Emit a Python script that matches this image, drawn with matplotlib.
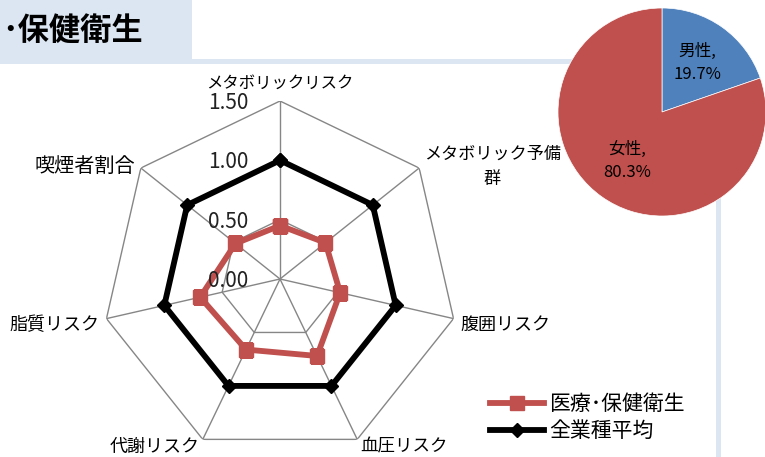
import numpy as np
import matplotlib
matplotlib.use("Agg")
import matplotlib.pyplot as plt
from matplotlib.patches import Rectangle

plt.rcParams['font.family'] = ['Noto Sans CJK JP', 'DejaVu Sans']

# data
categories = ['メタボリックリスク', 'メタボリック予備\n群', '腹囲リスク', '血圧リスク',
              '代謝リスク', '脂質リスク', '喫煙者割合']
medical = [0.45, 0.49, 0.52, 0.72, 0.66, 0.69, 0.48]
average = [1.00, 1.00, 1.00, 1.00, 1.00, 1.00, 1.00]
rticks = [0.0, 0.5, 1.0, 1.5]
series_names = ['医療･保健衛生', '全業種平均']
pie_names = ['男性', '女性']
pie_values = [19.7, 80.3]

red = '#C0504D'
blue = '#4F81BD'
pale = '#DCE6F2'
grid = '#868686'

W, H = 765, 457
fig = plt.figure(figsize=(W / 100, H / 100), dpi=100)

# background decoration (title box + frame lines)
fig.add_artist(Rectangle((0, 1 - 64 / H), 192 / W, 64 / H,
                         transform=fig.transFigure, fc=pale, ec='none', zorder=-1))
fig.add_artist(Rectangle((192 / W, 1 - 64 / H), 529 / W, 5 / H,
                         transform=fig.transFigure, fc=pale, ec='none', zorder=-1))
fig.add_artist(Rectangle((716 / W, 0), 5 / W, 1 - 59 / H,
                         transform=fig.transFigure, fc=pale, ec='none', zorder=-1))
fig.text(2 / W, 1 - 31 / H, '･保健衛生', fontsize=22.5, fontweight='bold',
         ha='left', va='center')

# radar chart
n = len(categories)
theta = np.arange(n) * 2 * np.pi / n
closed = np.append(theta, theta[0])

cx, cy, R = 280, 279, 178
ax = fig.add_axes([(cx - R) / W, 1 - (cy + R) / H, 2 * R / W, 2 * R / H],
                  projection='polar')
ax.set_theta_zero_location('N')
ax.set_theta_direction(-1)
ax.set_ylim(0, 1.5)
ax.set_xticks([])
ax.set_yticks([])
ax.grid(False)
ax.spines['polar'].set_visible(False)
ax.patch.set_visible(False)

for r in rticks[1:]:
    ax.plot(closed, [r] * (n + 1), color=grid, lw=1.0, zorder=1)
for t in theta:
    ax.plot([t, t], [0, rticks[-1]], color=grid, lw=1.0, zorder=1)

ax.plot(closed, np.append(medical, medical[0]), color=red, lw=4.2,
        marker='s', ms=10, zorder=3, label=series_names[0])
ax.plot(closed, np.append(average, average[0]), color='black', lw=4.2,
        marker='D', ms=7, zorder=4, label=series_names[1])

for r in rticks:
    ax.annotate(f'{r:.2f}', (0, r), xytext=(-32, -2), textcoords='offset pixels',
                ha='right', va='center', fontsize=15, color='#222222', zorder=5,
                annotation_clip=False)

label_r = [1.58, 1.55, 1.56, 1.56, 1.56, 1.56, 1.56]
label_dy = [0, -2, -5, -1, -1, -5, -3]
label_fs = [11.8, 12.3, 13, 12.6, 13, 13, 14.5]
label_ha = ['center', 'left', 'left', 'left', 'right', 'right', 'right']
label_va = ['bottom', 'center', 'center', 'center', 'center', 'center', 'center']
for t, lab, r, dy, fs, ha, va in zip(theta, categories, label_r, label_dy,
                                     label_fs, label_ha, label_va):
    ax.annotate(lab, (t, r), xytext=(0, dy), textcoords='offset pixels',
                ha=ha, va=va, fontsize=fs, multialignment='center',
                linespacing=1.5, annotation_clip=False)

leg = ax.legend(loc='upper left', bbox_to_anchor=(490 / W, 1 - 393 / H),
                bbox_transform=fig.transFigure, frameon=False, fontsize=15,
                handlelength=2.6, handletextpad=0.25, labelspacing=0.25,
                borderpad=0, borderaxespad=0)

# pie chart
px, py, pr = 662, 112, 104
pax = fig.add_axes([(px - pr) / W, 1 - (py + pr) / H, 2 * pr / W, 2 * pr / H])
pax.set_zorder(3)
wedges, texts = pax.pie(pie_values, labels=[f'{a},\n{v}%' for a, v in zip(pie_names, pie_values)],
                        colors=[blue, red], startangle=90, counterclock=False,
                        labeldistance=0.58, textprops={'fontsize': 12},
                        wedgeprops={'edgecolor': 'white', 'linewidth': 0.5})
for t in texts:
    t.set_ha('center')
    t.set_va('center')
    t.set_multialignment('center')
    t.set_linespacing(1.45)
pax.set_xlim(-1, 1)
pax.set_ylim(-1, 1)
pax.set_aspect('equal')

fig.savefig('out.png', dpi=100)
